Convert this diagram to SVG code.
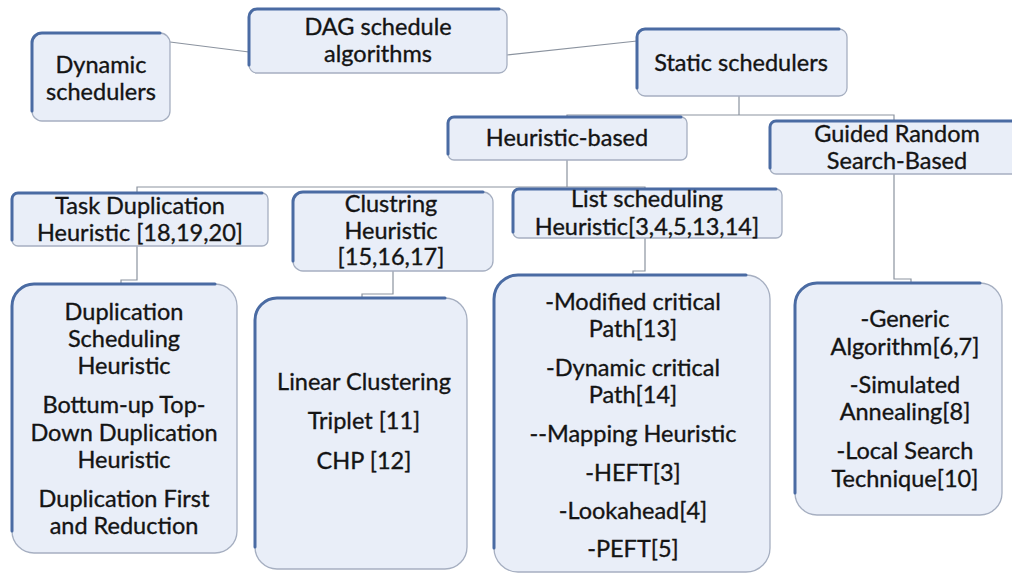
<svg xmlns="http://www.w3.org/2000/svg" width="1012" height="573" viewBox="0 0 1012 573">
  <style>
    .box { fill: #e9eef8; stroke: #a6afc1; stroke-width: 1.3; }
    .edge { fill: none; stroke: #4a6ba3; stroke-width: 3; stroke-linecap: round; }
    .conn { fill: none; stroke: #8b939f; stroke-width: 1.2; }
    text { font-family: Lato, "Noto Sans", sans-serif; font-size: 23.5px; fill: #141414; stroke: #141414; stroke-width: 0.35; text-anchor: middle; }
  </style>
  <rect width="1012" height="573" fill="#ffffff"/>

  <!-- connectors (drawn under the boxes) -->
  <g id="connectors">
    <path class="conn" d="M170,42 L249,52"/>
    <path class="conn" d="M507,55 L637,41"/>
    <path class="conn" d="M739,96 V115 M567,117 V115 H894 V121"/>
    <path class="conn" d="M894,174 V279 H911 V283"/>
    <path class="conn" d="M567,160 V187 M137,193 V187 H645 V189"/>
    <path class="conn" d="M137,246 V280 H121 V284"/>
    <path class="conn" d="M393,271 V294 H362 V298"/>
    <path class="conn" d="M645,238 V271 H633 V275"/>
  </g>

  <g id="dag">
    <rect class="box" x="249" y="9" width="258" height="64" rx="8"/>
    <path class="edge" d="M249,65 V17 A8,8 0 0 1 257,9 H499"/>
    <text x="378" y="35">DAG schedule</text>
    <text x="378" y="62">algorithms</text>
  </g>

  <g id="dynamic">
    <rect class="box" x="32" y="33" width="138" height="88" rx="10"/>
    <path class="edge" d="M32,111 V43 A10,10 0 0 1 42,33 H160"/>
    <text x="101" y="73">Dynamic</text>
    <text x="101" y="100">schedulers</text>
  </g>

  <g id="static">
    <rect class="box" x="637" y="29" width="210" height="67" rx="8"/>
    <path class="edge" d="M637,88 V37 A8,8 0 0 1 645,29 H839"/>
    <text x="741" y="71">Static schedulers</text>
  </g>

  <g id="heuristic">
    <rect class="box" x="448" y="117" width="239" height="43" rx="6"/>
    <path class="edge" d="M448,154 V123 A6,6 0 0 1 454,117 H681"/>
    <text x="567" y="146">Heuristic-based</text>
  </g>

  <g id="guided">
    <rect class="box" x="770" y="121" width="260" height="53" rx="6"/>
    <path class="edge" d="M770,168 V127 A6,6 0 0 1 776,121 H1024"/>
    <text x="897" y="142">Guided Random</text>
    <text x="897" y="169">Search-Based</text>
  </g>

  <g id="task-duplication">
    <rect class="box" x="12" y="193" width="256" height="53" rx="6"/>
    <path class="edge" d="M12,240 V199 A6,6 0 0 1 18,193 H262"/>
    <text x="140" y="214">Task Duplication</text>
    <text x="140" y="241">Heuristic [18,19,20]</text>
  </g>

  <g id="clustering">
    <rect class="box" x="293" y="192" width="200" height="79" rx="10"/>
    <path class="edge" d="M293,261 V202 A10,10 0 0 1 303,192 H483"/>
    <text x="391" y="212">Clustring</text>
    <text x="391" y="239">Heuristic</text>
    <text x="391" y="265">[15,16,17]</text>
  </g>

  <g id="list-scheduling">
    <rect class="box" x="513" y="189" width="269" height="49" rx="6"/>
    <path class="edge" d="M513,232 V195 A6,6 0 0 1 519,189 H776"/>
    <text x="647" y="207">List scheduling</text>
    <text x="647" y="235">Heuristic[3,4,5,13,14]</text>
  </g>

  <g id="duplication-list">
    <rect class="box" x="12" y="284" width="225" height="269" rx="22"/>
    <path class="edge" d="M12,531 V306 A22,22 0 0 1 34,284 H215"/>
    <text x="124" y="320">Duplication</text>
    <text x="124" y="347">Scheduling</text>
    <text x="124" y="374">Heuristic</text>
    <text x="124" y="413">Bottum-up Top-</text>
    <text x="124" y="441">Down Duplication</text>
    <text x="124" y="468">Heuristic</text>
    <text x="124" y="507">Duplication First</text>
    <text x="124" y="534">and Reduction</text>
  </g>

  <g id="clustering-list">
    <rect class="box" x="255" y="298" width="212" height="271" rx="22"/>
    <path class="edge" d="M255,547 V320 A22,22 0 0 1 277,298 H445"/>
    <text x="364" y="390">Linear Clustering</text>
    <text x="364" y="429">Triplet [11]</text>
    <text x="364" y="469">CHP [12]</text>
  </g>

  <g id="list-scheduling-list">
    <rect class="box" x="494" y="275" width="276" height="297" rx="24"/>
    <path class="edge" d="M494,548 V299 A24,24 0 0 1 518,275 H746"/>
    <text x="633" y="310">-Modified critical</text>
    <text x="633" y="337">Path[13]</text>
    <text x="633" y="376">-Dynamic critical</text>
    <text x="633" y="403">Path[14]</text>
    <text x="633" y="442">--Mapping Heuristic</text>
    <text x="633" y="481">-HEFT[3]</text>
    <text x="633" y="519">-Lookahead[4]</text>
    <text x="633" y="557">-PEFT[5]</text>
  </g>

  <g id="search-list">
    <rect class="box" x="795" y="283" width="207" height="232" rx="22"/>
    <path class="edge" d="M795,493 V305 A22,22 0 0 1 817,283 H980"/>
    <text x="905" y="327">-Generic</text>
    <text x="905" y="355">Algorithm[6,7]</text>
    <text x="905" y="393">-Simulated</text>
    <text x="905" y="420">Annealing[8]</text>
    <text x="905" y="459">-Local Search</text>
    <text x="905" y="487">Technique[10]</text>
  </g>
</svg>
